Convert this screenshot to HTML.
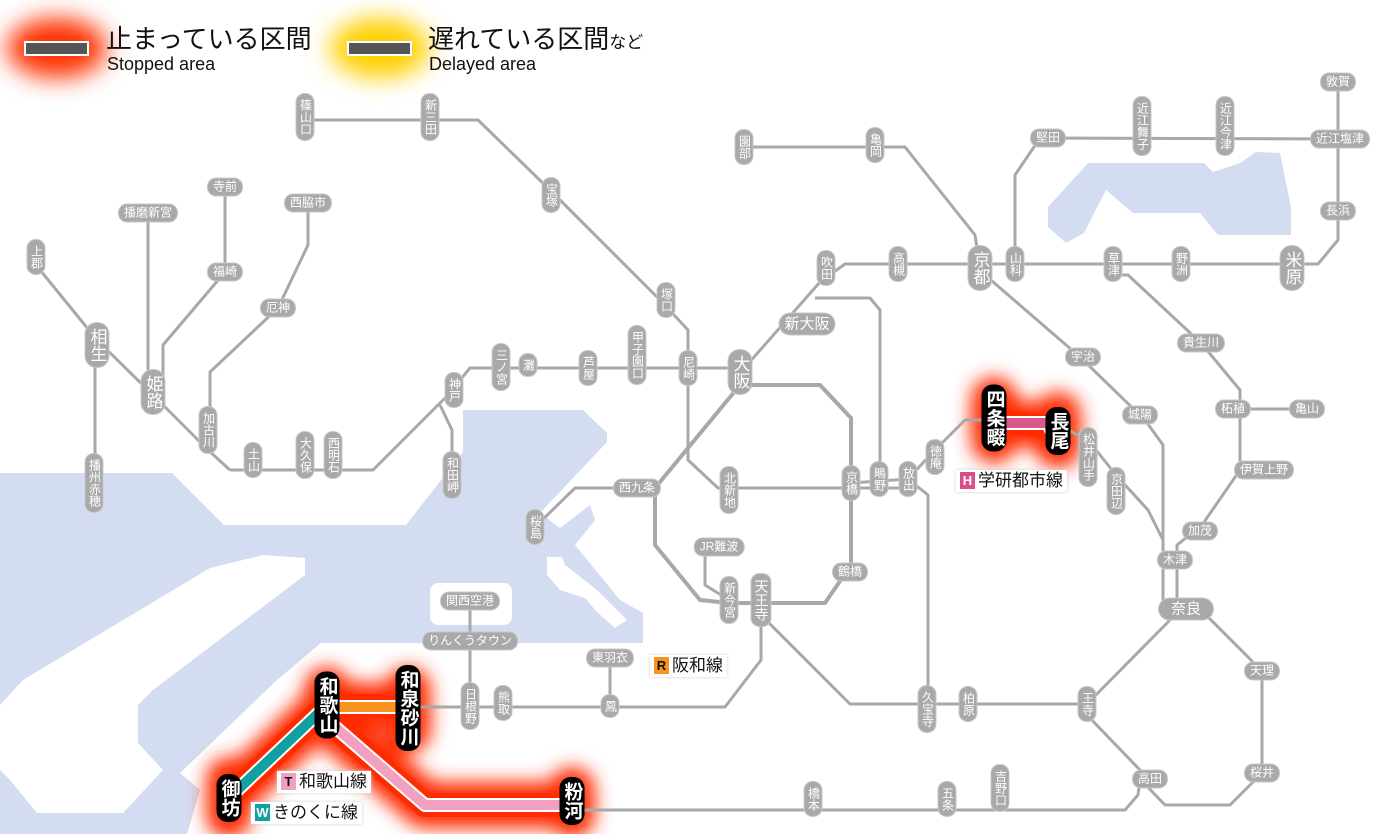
<!DOCTYPE html>
<html><head><meta charset="utf-8"><style>
html,body{margin:0;padding:0;background:#fff}
#w{position:relative;width:1400px;height:834px;overflow:hidden;background:#fff;font-family:"Liberation Sans","Noto Sans CJK JP",sans-serif}
svg{position:absolute;left:0;top:0}
.s{position:absolute;background:#a9a9a9;color:#fff;border-radius:8px;font-size:12px;line-height:13px;transform:translate(-50%,-50%);white-space:nowrap;padding:2px 5px;box-shadow:0 0 0 1px #c8c8c8}
.v{writing-mode:vertical-rl;text-orientation:upright;padding:5px 2px;}
.L{font-size:17px;line-height:19px;border-radius:11px}
.b{background:#000;font-size:19px;line-height:21px;border-radius:11px;box-shadow:none;font-weight:bold}
.tag{position:absolute;background:#fff;color:#111;font-size:17px;line-height:20px;padding:1px 4px;box-shadow:0 0 3px #ccc;white-space:nowrap}
.tag i{font-style:normal;display:inline-block;width:15px;height:17px;line-height:17px;text-align:center;font-size:13px;font-weight:bold;margin-right:3px;vertical-align:1px}
</style></head><body><div id="w">
<svg width="1400" height="834" viewBox="0 0 1400 834">
<defs>
<filter id="blur" x="-50%" y="-50%" width="200%" height="200%"><feGaussianBlur stdDeviation="9"/></filter>
<filter id="blur2" x="-50%" y="-50%" width="200%" height="200%"><feGaussianBlur stdDeviation="12"/></filter>
</defs>
<!-- sea -->
<g fill="#d3dcf0">
<polygon points="0,473 172,473 224,525 406,525 463,452 463,410 583,410 607,433 607,442 540,513 560,528 590,505 595,520 575,545 620,600 643,613 643,643 321,643 277,680 180,773 200,790 187,834 0,834"/>
<polygon points="1048,207 1088,163 1204,163 1213,172 1240,163 1256,152 1280,153 1291,207 1291,235 1218,235 1200,213 1133,213 1106,190 1084,233 1066,243 1048,227"/>
</g>
<g fill="#fff">
<polygon points="210,568 263,555 305,558 305,575 153,690 138,705 138,743 163,770 123,813 37,813 10,780 0,770 0,705 23,680"/>
<rect x="430" y="583" width="82" height="42" rx="8"/>
<polygon points="547,557 562,557 565,565 597,590 627,620 615,628 597,612 585,598 560,590 547,575"/>
</g>
<!-- glows -->
<g filter="url(#blur2)">
<ellipse cx="57" cy="48" rx="50" ry="30" fill="#ff3300"/>
<ellipse cx="380" cy="48" rx="50" ry="30" fill="#ffd000"/>
</g>
<g filter="url(#blur)">
<path d="M229,798 L327,705 L408,707 M327,720 L425,805 L572,805 M993,420 L1058,428 M327,690 L327,725 M408,690 L408,730 M229,780 L229,815 M572,790 L572,815 M994,400 L994,440 M1058,415 L1058,445" stroke="#ff2a00" stroke-width="46" fill="none" stroke-linejoin="round" stroke-linecap="round"/>
</g>
<path d="M229,798 L327,705 L408,707 M327,720 L425,805 L572,805 M993,420 L1058,428" stroke="#ff2a00" stroke-width="24" fill="none" stroke-linejoin="round" stroke-linecap="round" opacity="0.9"/>
<rect x="25" y="42" width="63" height="13" fill="#555" stroke="#fff" stroke-width="2"/>
<rect x="348" y="42" width="63" height="13" fill="#555" stroke="#fff" stroke-width="2"/>
<!-- grey lines -->
<g fill="none" stroke="#a8a8a8" stroke-width="3" stroke-linejoin="round">
<polyline points="305,120 478,120 550,190 660,300 688,330 688,460 718,488 908,488"/>
<polyline points="230,470 373,470 445,398 470,368 740,368"/>
<polyline points="153,395 208,450 230,470"/>
<polyline points="36,265 97,340 153,395"/>
<polyline points="95,345 95,483"/>
<polyline points="148,213 148,392"/>
<polyline points="225,187 225,272 163,345 163,392"/>
<polyline points="308,203 308,245 278,308 210,372 210,430"/>
<polyline points="440,405 452,430 452,475"/>
<polyline points="740,373 820,282 845,264 1318,264 1338,240 1338,82"/>
<polyline points="744,147 905,147 975,235 980,268"/>
<polyline points="1015,264 1015,175 1040,138 1340,139"/>
<polyline points="985,275 1080,357 1145,420 1163,445 1163,609"/>
<polyline points="1113,275 1128,275 1201,343 1240,390 1240,470 1202,525 1177,545 1177,609"/>
<polyline points="1240,409 1307,409"/>
<polyline points="851,483 908,479 935,450 965,420 993,420"/>
<polyline points="1058,425 1088,440 1116,475 1148,510 1163,540"/>
<polyline points="908,479 928,495 928,700"/>
<polyline points="815,298 870,298 880,310 880,479"/>
<polyline points="740,385 820,385 851,418 851,565 825,603 729,603 700,600 655,545 655,488 740,385" stroke-width="4"/>
<polyline points="705,547 705,585 729,600"/>
<polyline points="637,488 575,488 535,527"/>
<polyline points="761,615 850,704 1087,704 1170,620 1186,609"/>
<polyline points="1087,715 1140,770 1140,779 1165,805 1230,805 1262,773 1262,671 1200,609"/>
<polyline points="1140,779 1138,795 1125,810 572,810"/>
<polyline points="761,615 761,660 725,707 408,707"/>
<polyline points="610,658 610,706"/>
<polyline points="470,601 470,706"/>
</g>
<!-- colored stopped lines -->
<g fill="none" stroke-linejoin="round">
<path d="M229,798 L327,705" stroke="#fff" stroke-width="14"/>
<path d="M229,798 L327,705" stroke="#13a0a3" stroke-width="10"/>
<path d="M327,707 L408,707" stroke="#fff" stroke-width="14"/>
<path d="M327,707 L408,707" stroke="#f7931e" stroke-width="10"/>
<path d="M327,720 L425,805 L572,805" stroke="#fff" stroke-width="14"/>
<path d="M327,720 L425,805 L572,805" stroke="#f2a0bf" stroke-width="10"/>
<path d="M993,423 L1048,423 L1052,432 L1058,432" stroke="#fff" stroke-width="14"/>
<path d="M993,423 L1048,423 L1052,432 L1058,432" stroke="#d85a8a" stroke-width="10"/>
</g>
</svg>
<!-- legend text -->
<div style="position:absolute;left:106px;top:24px;font-size:26px;line-height:30px;color:#111;white-space:nowrap">止まっている区間</div>
<div style="position:absolute;left:107px;top:54px;font-size:18px;line-height:20px;color:#111">Stopped area</div>
<div style="position:absolute;left:428px;top:24px;font-size:26px;line-height:30px;color:#111;white-space:nowrap">遅れている区間<span style="font-size:17px">など</span></div>
<div style="position:absolute;left:429px;top:54px;font-size:18px;line-height:20px;color:#111">Delayed area</div>

<!-- stations -->
<div class="s v" style="left:305px;top:117px">篠山口</div>
<div class="s v" style="left:430px;top:117px">新三田</div>
<div class="s v" style="left:551px;top:195px">宝塚</div>
<div class="s v" style="left:666px;top:300px">塚口</div>
<div class="s v" style="left:688px;top:368px">尼崎</div>
<div class="s v" style="left:637px;top:355px">甲子園口</div>
<div class="s v" style="left:588px;top:368px">芦屋</div>
<div class="s v" style="left:528px;top:365px">灘</div>
<div class="s v" style="left:501px;top:367px">三ノ宮</div>
<div class="s v" style="left:454px;top:390px">神戸</div>
<div class="s v" style="left:452px;top:475px">和田岬</div>
<div class="s v" style="left:333px;top:455px">西明石</div>
<div class="s v" style="left:305px;top:455px">大久保</div>
<div class="s v" style="left:253px;top:460px">土山</div>
<div class="s v" style="left:208px;top:430px">加古川</div>
<div class="s v L" style="left:153px;top:392px">姫路</div>
<div class="s v L" style="left:97px;top:345px">相生</div>
<div class="s v" style="left:36px;top:257px">上郡</div>
<div class="s v" style="left:94px;top:483px">播州赤穂</div>
<div class="s" style="left:148px;top:213px">播磨新宮</div>
<div class="s" style="left:225px;top:187px">寺前</div>
<div class="s" style="left:225px;top:272px">福崎</div>
<div class="s" style="left:308px;top:203px">西脇市</div>
<div class="s" style="left:278px;top:308px">厄神</div>
<div class="s v L" style="left:740px;top:372px">大阪</div>
<div class="s L" style="left:807px;top:324px;font-size:15px;line-height:17px">新大阪</div>
<div class="s v" style="left:826px;top:268px">吹田</div>
<div class="s v" style="left:898px;top:264px">高槻</div>
<div class="s v L" style="left:980px;top:268px">京都</div>
<div class="s v" style="left:1015px;top:264px">山科</div>
<div class="s v" style="left:744px;top:147px">園部</div>
<div class="s v" style="left:875px;top:145px">亀岡</div>
<div class="s" style="left:1048px;top:138px">堅田</div>
<div class="s v" style="left:1142px;top:126px">近江舞子</div>
<div class="s v" style="left:1225px;top:126px">近江今津</div>
<div class="s" style="left:1338px;top:82px">敦賀</div>
<div class="s" style="left:1340px;top:139px">近江塩津</div>
<div class="s" style="left:1338px;top:211px">長浜</div>
<div class="s v L" style="left:1292px;top:268px">米原</div>
<div class="s v" style="left:1181px;top:264px">野洲</div>
<div class="s v" style="left:1113px;top:264px">草津</div>
<div class="s" style="left:1083px;top:357px">宇治</div>
<div class="s" style="left:1201px;top:343px">貴生川</div>
<div class="s" style="left:1140px;top:415px">城陽</div>
<div class="s" style="left:1233px;top:409px">柘植</div>
<div class="s" style="left:1307px;top:409px">亀山</div>
<div class="s" style="left:1264px;top:470px">伊賀上野</div>
<div class="s" style="left:1200px;top:531px">加茂</div>
<div class="s" style="left:1175px;top:560px">木津</div>
<div class="s L" style="left:1186px;top:609px;font-size:15px;line-height:17px;padding:2px 12px">奈良</div>
<div class="s" style="left:1262px;top:671px">天理</div>
<div class="s" style="left:1262px;top:773px">桜井</div>
<div class="s" style="left:1150px;top:779px">高田</div>
<div class="s v" style="left:1087px;top:704px">王寺</div>
<div class="s v" style="left:968px;top:704px">柏原</div>
<div class="s v" style="left:927px;top:709px">久宝寺</div>
<div class="s v" style="left:1000px;top:788px">吉野口</div>
<div class="s v" style="left:947px;top:799px">五条</div>
<div class="s v" style="left:813px;top:799px">橋本</div>
<div class="s v" style="left:1088px;top:457px">松井山手</div>
<div class="s v" style="left:1116px;top:491px">京田辺</div>
<div class="s v" style="left:935px;top:457px">徳庵</div>
<div class="s v" style="left:908px;top:479px">放出</div>
<div class="s v" style="left:879px;top:479px">鴫野</div>
<div class="s v" style="left:851px;top:483px">京橋</div>
<div class="s v" style="left:729px;top:490px">北新地</div>
<div class="s" style="left:637px;top:488px">西九条</div>
<div class="s v" style="left:535px;top:527px">桜島</div>
<div class="s" style="left:719px;top:547px">JR難波</div>
<div class="s v" style="left:729px;top:600px">新今宮</div>
<div class="s v" style="left:761px;top:600px;font-size:14px;line-height:15px">天王寺</div>
<div class="s" style="left:850px;top:572px">鶴橋</div>
<div class="s" style="left:470px;top:601px">関西空港</div>
<div class="s" style="left:470px;top:641px">りんくうタウン</div>
<div class="s v" style="left:470px;top:706px">日根野</div>
<div class="s v" style="left:503px;top:703px">熊取</div>
<div class="s" style="left:610px;top:658px">東羽衣</div>
<div class="s v" style="left:610px;top:706px">鳳</div>
<!-- black stopped stations -->
<div class="s v b" style="left:408px;top:708px">和泉砂川</div>
<div class="s v b" style="left:327px;top:705px">和歌山</div>
<div class="s v b" style="left:229px;top:798px">御坊</div>
<div class="s v b" style="left:572px;top:801px">粉河</div>
<div class="s v b" style="left:994px;top:418px">四条畷</div>
<div class="s v b" style="left:1058px;top:431px">長尾</div>
<!-- line tags -->
<div class="tag" style="left:956px;top:470px"><i style="background:#d8508a;color:#fff">H</i>学研都市線</div>
<div class="tag" style="left:650px;top:655px"><i style="background:#f7931e;color:#111">R</i>阪和線</div>
<div class="tag" style="left:277px;top:771px"><i style="background:#f2a0bf;color:#111">T</i>和歌山線</div>
<div class="tag" style="left:251px;top:802px"><i style="background:#13a0a3;color:#fff">W</i>きのくに線</div>
</div></body></html>
